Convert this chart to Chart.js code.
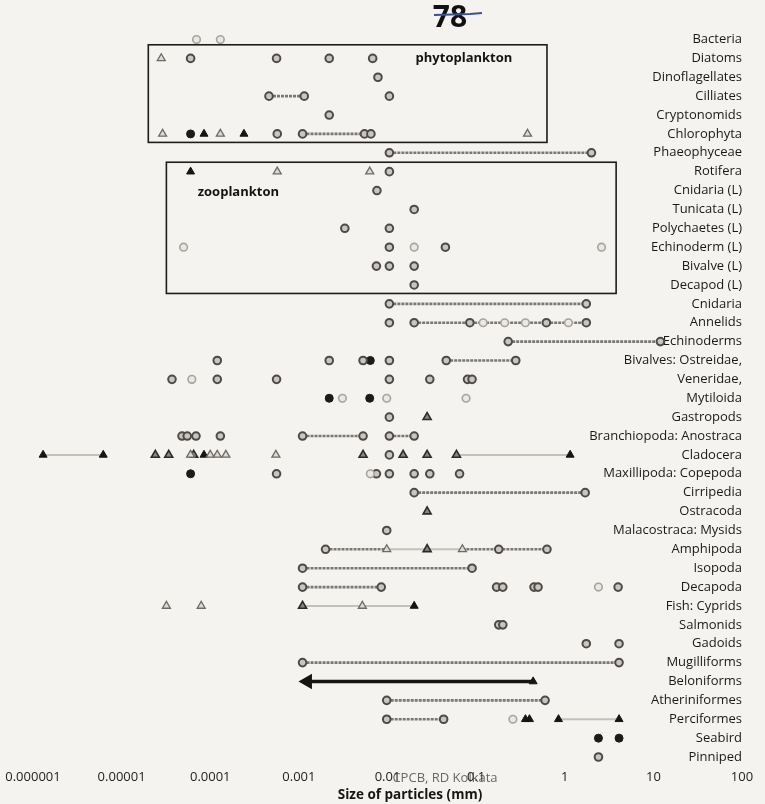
<!DOCTYPE html>
<html><head><meta charset="utf-8">
<script src="https://cdn.jsdelivr.net/npm/chart.js@4.4.1/dist/chart.umd.min.js"></script>
<style>html,body{margin:0;padding:0;background:#f5f3ef;}canvas{display:block}</style>
</head><body>
<canvas id="c" width="765" height="804"></canvas>
<script>
const categories = ['Bacteria','Diatoms','Dinoflagellates','Cilliates','Cryptonomids','Chlorophyta','Phaeophyceae','Rotifera','Cnidaria (L)','Tunicata (L)','Polychaetes (L)','Echinoderm (L)','Bivalve (L)','Decapod (L)','Cnidaria','Annelids','Echinoderms','Bivalves: Ostreidae,','Veneridae,','Mytiloida','Gastropods','Branchiopoda: Anostraca','Cladocera','Maxillipoda: Copepoda','Cirripedia','Ostracoda','Malacostraca: Mysids','Amphipoda','Isopoda','Decapoda','Fish: Cyprids','Salmonids','Gadoids','Mugilliforms','Beloniforms','Atheriniformes','Perciformes','Seabird','Pinniped'];

const xTicks = [1e-6,1e-5,1e-4,1e-3,1e-2,1e-1,1,10,100];
const xTickLabels = ['0.000001','0.00001','0.0001','0.001','0.01','0.1','1','10','100'];
const axisTitle = 'Size of particles (mm)';

// grey ring circles [size mm, category]
const ringPoints = [
 [6e-5,'Diatoms'],[5.6e-4,'Diatoms'],[2.2e-3,'Diatoms'],[6.8e-3,'Diatoms'],
 [7.8e-3,'Dinoflagellates'],
 [4.6e-4,'Cilliates'],[1.15e-3,'Cilliates'],[0.0105,'Cilliates'],
 [2.2e-3,'Cryptonomids'],
 [5.7e-4,'Chlorophyta'],[1.1e-3,'Chlorophyta'],[5.5e-3,'Chlorophyta'],[6.5e-3,'Chlorophyta'],
 [0.0105,'Phaeophyceae'],[2,'Phaeophyceae'],
 [0.0105,'Rotifera'],
 [7.6e-3,'Cnidaria (L)'],
 [0.02,'Tunicata (L)'],
 [3.3e-3,'Polychaetes (L)'],[0.0105,'Polychaetes (L)'],
 [0.0105,'Echinoderm (L)'],[0.045,'Echinoderm (L)'],
 [0.0075,'Bivalve (L)'],[0.0105,'Bivalve (L)'],[0.02,'Bivalve (L)'],
 [0.02,'Decapod (L)'],
 [0.0105,'Cnidaria'],[1.75,'Cnidaria'],
 [0.0105,'Annelids'],[0.02,'Annelids'],[0.085,'Annelids'],[0.62,'Annelids'],[1.75,'Annelids'],
 [0.23,'Echinoderms'],[12,'Echinoderms'],
 [1.2e-4,'Bivalves: Ostreidae,'],[2.2e-3,'Bivalves: Ostreidae,'],[5.3e-3,'Bivalves: Ostreidae,'],[0.0105,'Bivalves: Ostreidae,'],[0.046,'Bivalves: Ostreidae,'],[0.28,'Bivalves: Ostreidae,'],
 [3.7e-5,'Veneridae,'],[1.2e-4,'Veneridae,'],[5.6e-4,'Veneridae,'],[0.0105,'Veneridae,'],[0.03,'Veneridae,'],[0.08,'Veneridae,'],[0.09,'Veneridae,'],
 [0.0105,'Gastropods'],
 [4.8e-5,'Branchiopoda: Anostraca'],[5.5e-5,'Branchiopoda: Anostraca'],[6.9e-5,'Branchiopoda: Anostraca'],[1.3e-4,'Branchiopoda: Anostraca'],[1.1e-3,'Branchiopoda: Anostraca'],[5.3e-3,'Branchiopoda: Anostraca'],[0.0105,'Branchiopoda: Anostraca'],[0.02,'Branchiopoda: Anostraca'],
 [0.0105,'Cladocera'],
 [5.6e-4,'Maxillipoda: Copepoda'],[0.0075,'Maxillipoda: Copepoda'],[0.0105,'Maxillipoda: Copepoda'],[0.02,'Maxillipoda: Copepoda'],[0.03,'Maxillipoda: Copepoda'],[0.065,'Maxillipoda: Copepoda'],
 [0.02,'Cirripedia'],[1.7,'Cirripedia'],
 [0.0098,'Malacostraca: Mysids'],
 [2e-3,'Amphipoda'],[0.18,'Amphipoda'],[0.63,'Amphipoda'],
 [1.1e-3,'Isopoda'],[0.09,'Isopoda'],
 [1.1e-3,'Decapoda'],[8.5e-3,'Decapoda'],[0.17,'Decapoda'],[0.2,'Decapoda'],[0.45,'Decapoda'],[0.5,'Decapoda'],[4,'Decapoda'],
 [0.18,'Salmonids'],[0.2,'Salmonids'],
 [1.75,'Gadoids'],[4.1,'Gadoids'],
 [1.1e-3,'Mugilliforms'],[4.1,'Mugilliforms'],
 [0.0098,'Atheriniformes'],[0.6,'Atheriniformes'],
 [0.0098,'Perciformes'],[0.043,'Perciformes'],
 [2.4,'Pinniped']
];

// pale circles
const paleCircles = [
 [7e-5,'Bacteria'],[1.3e-4,'Bacteria'],
 [5e-5,'Echinoderm (L)'],[0.02,'Echinoderm (L)'],[2.6,'Echinoderm (L)'],
 [0.12,'Annelids'],[0.21,'Annelids'],[0.36,'Annelids'],[1.1,'Annelids'],
 [6.2e-5,'Veneridae,'],
 [3.1e-3,'Mytiloida'],[0.0098,'Mytiloida'],[0.077,'Mytiloida'],
 [0.0064,'Maxillipoda: Copepoda'],
 [2.4,'Decapoda'],
 [0.26,'Perciformes']
];

// solid black circles
const blackCircles = [
 [6e-5,'Chlorophyta'],
 [6.4e-3,'Bivalves: Ostreidae,'],
 [2.2e-3,'Mytiloida'],[6.3e-3,'Mytiloida'],
 [6e-5,'Maxillipoda: Copepoda'],
 [2.4,'Seabird'],[4.1,'Seabird']
];

// solid black triangles
const blackTriangles = [
 [8.5e-5,'Chlorophyta'],[2.4e-4,'Chlorophyta'],
 [6e-5,'Rotifera'],
 [1.3e-6,'Cladocera'],[6.2e-6,'Cladocera'],[8.5e-5,'Cladocera'],[1.15,'Cladocera'],
 [0.02,'Fish: Cyprids'],
 [0.36,'Perciformes'],[0.4,'Perciformes'],[0.85,'Perciformes'],[4.1,'Perciformes'],
 [0.44,'Beloniforms']
];

// dark outlined triangles
const darkTriangles = [
 [2.4e-5,'Cladocera'],[3.4e-5,'Cladocera'],[6.5e-5,'Cladocera'],[5.3e-3,'Cladocera'],[0.015,'Cladocera'],[0.028,'Cladocera'],[0.06,'Cladocera'],
 [0.028,'Gastropods'],[0.028,'Ostracoda'],[0.028,'Amphipoda'],
 [1.1e-3,'Fish: Cyprids']
];

// pale outlined triangles
const paleTriangles = [
 [2.8e-5,'Diatoms'],
 [2.9e-5,'Chlorophyta'],[1.3e-4,'Chlorophyta'],[0.38,'Chlorophyta'],
 [5.7e-4,'Rotifera'],[6.3e-3,'Rotifera'],
 [1.0e-4,'Cladocera'],[1.2e-4,'Cladocera'],[1.5e-4,'Cladocera'],[6e-5,'Cladocera'],[5.5e-4,'Cladocera'],
 [0.0098,'Amphipoda'],[0.07,'Amphipoda'],
 [3.2e-5,'Fish: Cyprids'],[7.9e-5,'Fish: Cyprids'],[5.2e-3,'Fish: Cyprids']
];

// size ranges [from, to, category]
const ranges = [
 [4.6e-4,1.15e-3,'Cilliates'],
 [1.1e-3,6.5e-3,'Chlorophyta'],
 [0.0105,2,'Phaeophyceae'],
 [0.0105,1.75,'Cnidaria'],
 [0.02,1.75,'Annelids'],
 [0.23,12,'Echinoderms'],
 [0.046,0.28,'Bivalves: Ostreidae,'],
 [1.1e-3,5.3e-3,'Branchiopoda: Anostraca'],[0.0105,0.02,'Branchiopoda: Anostraca'],
 [0.02,1.7,'Cirripedia'],
 [2e-3,0.0098,'Amphipoda'],[0.07,0.63,'Amphipoda'],
 [1.1e-3,0.09,'Isopoda'],
 [1.1e-3,8.5e-3,'Decapoda'],
 [1.1e-3,4.1,'Mugilliforms'],
 [0.0098,0.6,'Atheriniformes'],
 [0.0098,0.043,'Perciformes']
];
const faintRanges = [
 [1.3e-6,6.2e-6,'Cladocera'],[0.06,1.15,'Cladocera'],
 [0.0098,0.07,'Amphipoda'],
 [1.1e-3,0.02,'Fish: Cyprids'],
 [0.85,4.1,'Perciformes']
];
// arrow [from, to, category]
const arrows = [[0.44,1.25e-3,'Beloniforms']];

// grouping boxes [label, xFrom, xTo, firstRow, lastRow]
const groupBoxes = [
 ['phytoplankton',2e-5,0.63,'Diatoms','Chlorophyta'],
 ['zooplankton',3.2e-5,3.8,'Rotifera','Decapod (L)']
];

const row = c => categories.indexOf(c);
const pts = arr => arr.map(([x,c]) => ({x, y: row(c)}));
const FONT = "'Open Sans', 'DejaVu Sans', sans-serif";

const datasets = [];
ranges.forEach(([a,b,c]) => datasets.push({data:[{x:a,y:row(c)},{x:b,y:row(c)}], showLine:true, borderColor:'#7b7874', borderWidth:2.6, borderDash:[3,1], pointRadius:0, order:5, clip:false}));
faintRanges.forEach(([a,b,c]) => datasets.push({data:[{x:a,y:row(c)},{x:b,y:row(c)}], showLine:true, borderColor:'#c4c0ba', borderWidth:2, pointRadius:0, order:6, clip:false}));
arrows.forEach(([a,b,c]) => datasets.push({data:[{x:a,y:row(c)},{x:b,y:row(c)}], showLine:true, borderColor:'#161514', borderWidth:3.5, pointRadius:[0,5.5], pointStyle:'triangle', pointRotation:270, pointBackgroundColor:'#161514', pointBorderColor:'#161514', order:4, clip:false}));
const mk = (arr, style, bg, bd, bw, r) => ({data:pts(arr), showLine:false, pointStyle:style, pointRadius:r, pointBackgroundColor:bg, pointBorderColor:bd, pointBorderWidth:bw, order:1, clip:false});
datasets.push(mk(paleCircles,'circle','#ebe8e3','#a7a39e',1.6,3.8));
datasets.push(mk(ringPoints,'circle','#c9c5c0','#4d4a47',2,3.8));
datasets.push(mk(blackCircles,'circle','#1c1b1a','#1c1b1a',1,4));
datasets.push(mk(paleTriangles,'triangle','#dedad4','#6e6a66',1.3,4.6));
datasets.push(mk(darkTriangles,'triangle','#8a8682','#2c2a28',1.6,4.6));
datasets.push(mk(blackTriangles,'triangle','#161514','#161514',1,4.6));

const decor = {
 id:'decor',
 beforeDraw(chart){
   const ctx = chart.ctx; ctx.save(); ctx.fillStyle='#f5f3ef'; ctx.fillRect(0,0,chart.width,chart.height); ctx.restore();
 },
 afterDatasetsDraw(chart){
   const ctx = chart.ctx, xs = chart.scales.x, ys = chart.scales.y;
   ctx.save();
   groupBoxes.forEach(([label,x0,x1,r0,r1],i) => {
     const L = xs.getPixelForValue(x0), R = xs.getPixelForValue(x1);
     const T = ys.getPixelForValue(row(r0) - (i===0?0.72:0.5)), B = ys.getPixelForValue(row(r1) + 0.45);
     ctx.strokeStyle='#1d1c1b'; ctx.lineWidth=1.6; ctx.strokeRect(L,T,R-L,B-T);
     ctx.fillStyle='#141312'; ctx.font="bold 13px "+FONT; ctx.textBaseline='middle'; ctx.textAlign='center';
     if(i===0){ ctx.fillText(label, R-83, ys.getPixelForValue(row(r0))); }
     else { ctx.fillText(label, L+72, ys.getPixelForValue(row(r0)+1.1)); }
   });
   ctx.restore();
 },
 afterDraw(chart){
   const ctx = chart.ctx; ctx.save();
   ctx.textAlign='center'; ctx.textBaseline='middle';
   ctx.fillStyle='#111'; ctx.font="bold 30px "+FONT;
   ctx.fillText('78', 450, 18);
   ctx.strokeStyle='#3b4f9a'; ctx.lineWidth=2.2; ctx.beginPath(); ctx.moveTo(434,15); ctx.lineTo(470,14); ctx.lineTo(482,13); ctx.stroke();
   ctx.fillStyle='rgba(70,68,66,0.8)'; ctx.font="13px "+FONT; ctx.fillText('CPCB, RD Kolkata', 445, 778);
   ctx.fillStyle='#161514'; ctx.font="bold 13.5px "+FONT; ctx.fillText(axisTitle, 410, 795);
   ctx.restore();
 }
};

new Chart(document.getElementById('c'), {
 type:'scatter',
 data:{datasets},
 options:{
  responsive:false, animation:false,
  layout:{padding:{left:33,right:23,top:31,bottom:17}},
  plugins:{legend:{display:false}, tooltip:{enabled:false}},
  scales:{
   x:{type:'logarithmic', min:1e-6, max:100, position:'bottom',
      grid:{display:false, drawTicks:false}, border:{display:false},
      afterBuildTicks:s=>{ s.ticks = xTicks.map(v=>({value:v})); },
      ticks:{autoSkip:false, maxRotation:0, padding:2, color:'#222', font:{family:FONT,size:13},
             callback:(v,i)=>xTickLabels[i]}},
   y:{type:'linear', reverse:true, min:-0.45, max:categories.length-0.45, position:'right',
      grid:{display:false, drawTicks:false}, border:{display:false},
      afterBuildTicks:s=>{ s.ticks = categories.map((_,i)=>({value:i})); },
      ticks:{mirror:true, padding:0, autoSkip:false, color:'#1a1918', font:{family:FONT,size:13},
             callback:v=>categories[v]}}
  }
 },
 plugins:[decor]
});
</script>
</body></html>
